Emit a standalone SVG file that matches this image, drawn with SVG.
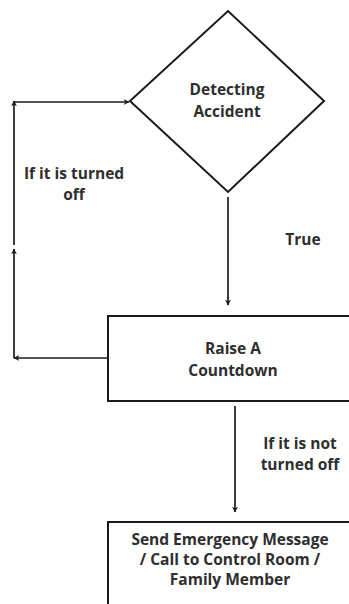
<svg xmlns="http://www.w3.org/2000/svg" width="349" height="604" viewBox="0 0 349 604">
<style>
.shape{fill:#fff;stroke:#1a1a1a;stroke-width:2}
.conn{fill:none;stroke:#1a1a1a;stroke-width:1.7}
text{font-family:"Open Sans","Liberation Sans",sans-serif;font-weight:700;font-size:15.5px;fill:#2e2e2e;text-anchor:middle}
</style>
<defs>
<marker id="ah" viewBox="0 0 10 10" refX="9" refY="5" markerWidth="6" markerHeight="6" orient="auto" markerUnits="userSpaceOnUse">
<path d="M0,0 L10,5 L0,10 L3,5 Z" fill="#1a1a1a"/>
</marker>
</defs>
<rect width="349" height="604" fill="#fff"/>
<g id="connectors">
<path class="conn" d="M228,197 L228,305" marker-end="url(#ah)"/>
<path class="conn" d="M235,406 L235,512" marker-end="url(#ah)"/>
<path class="conn" d="M108,358 L14,358" marker-end="url(#ah)"/>
<path class="conn" d="M14,358 L14,249" marker-end="url(#ah)"/>
<path class="conn" d="M14,245 L14,101" marker-end="url(#ah)"/>
<path class="conn" d="M14,102 L129,102" marker-end="url(#ah)"/>
</g>
<g id="node-detect">
<polygon class="shape" points="228,11 324,101 228,192 130,101"/>
<text x="227" y="95">Detecting</text>
<text x="227" y="117">Accident</text>
</g>
<g id="node-countdown">
<rect class="shape" x="108" y="316" width="260" height="85"/>
<text x="233" y="354">Raise A</text>
<text x="233" y="376">Countdown</text>
</g>
<g id="node-send">
<rect class="shape" x="108" y="522" width="260" height="100"/>
<text x="230" y="545">Send Emergency Message</text>
<text x="230" y="565">/ Call to Control Room /</text>
<text x="230" y="585">Family Member</text>
</g>
<g id="labels">
<text x="74" y="179">If it is turned</text>
<text x="74" y="200">off</text>
<text x="303" y="245">True</text>
<text x="300" y="449">If it is not</text>
<text x="300" y="470">turned off</text>
</g>
</svg>
